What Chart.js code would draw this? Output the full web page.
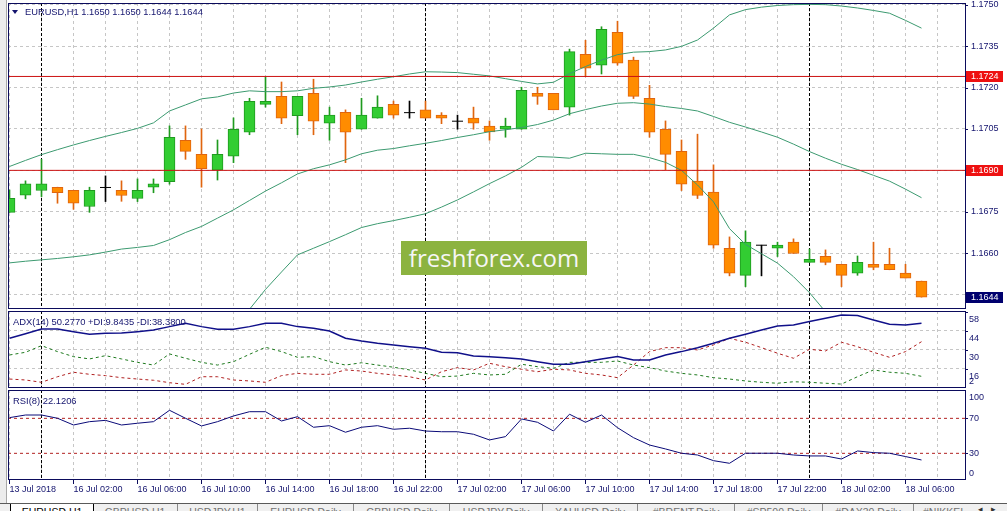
<!DOCTYPE html>
<html lang="en">
<head>
<meta charset="UTF-8">
<title>EURUSD,H1</title>
<script src="https://cdn.jsdelivr.net/npm/chart.js"></script>
<style>
    html, body { margin: 0; padding: 0; }
    body {
        width: 1007px;
        height: 511px;
        position: relative;
        overflow: hidden;
        background: #fff;
        font-family: 'Liberation Sans', Arial, sans-serif;
    }
    canvas { position: absolute; left: 0; }
    #leftStrip {
        position: absolute; left: 0; top: 0; width: 6px; height: 503px;
        background: #ececec; border-right: 1px solid #a8a8a8;
    }
    .label {
        position: absolute;
        color: #14146e;
        font-size: 9.4px;
        line-height: 11px;
        white-space: nowrap;
        z-index: 5;
    }
    #tri {
        position: absolute; left: 12px; top: 10px; width: 0; height: 0;
        border-left: 3px solid transparent; border-right: 3px solid transparent;
        border-top: 4px solid #14146e; z-index: 5;
    }
    #brand {
        position: absolute; left: 401px; top: 241px; width: 186px; height: 34px;
        background: #8cb340; color: #f6f6f6;
        font-family: 'Open Sans', sans-serif; font-size: 24px; line-height: 34px;
        text-align: center; z-index: 5;
    }
    #tabs {
        position: absolute; left: 0; top: 503px; width: 1007px; height: 8px;
        background: #f0f0f0; border-top: 1px solid #5a5a5a; z-index: 6; overflow: hidden;
    }
    .tab {
        position: absolute; top: 0; height: 12px; box-sizing: border-box;
        font-size: 10.5px; line-height: 10.5px; padding-top: 3px;
        color: #707070; text-align: center; border-right: 1px solid #8a8a8a;
        white-space: nowrap; overflow: hidden;
    }
    .tab.active {
        top: -1px; background: #fff; color: #000;
        border-left: 1px solid #000; border-right: 1px solid #000;
        padding-top: 4px;
    }
    #arrows {
        position: absolute; left: 978px; top: 1px; font-size: 9px; line-height: 9px; color: #333;
    }
</style>
</head>
<body>
<div id="leftStrip"></div>
<canvas id="mainChart" width="1007" height="310" style="top:0"></canvas>
<canvas id="adxChart" width="1007" height="79" style="top:310px"></canvas>
<canvas id="rsiChart" width="1007" height="122" style="top:389px"></canvas>

<div id="tri"></div>
<div class="label" id="header" style="left:25px; top:6.5px; font-size:9.3px"></div>
<div class="label" style="left:13px; top:315.5px">ADX(14) 50.2770 +DI:9.8435 -DI:38.3800</div>
<div class="label" style="left:13px; top:394.8px">RSI(8) 22.1206</div>
<div id="brand">freshforex.com</div>

<div id="tabs">
    <div class="tab" style="left:93px; width:85px">GBPUSD,H1</div>
    <div class="tab" style="left:178px; width:80px">USDJPY,H1</div>
    <div class="tab" style="left:258px; width:96px">EURUSD,Daily</div>
    <div class="tab" style="left:354px; width:96px">GBPUSD,Daily</div>
    <div class="tab" style="left:450px; width:93px">USDJPY,Daily</div>
    <div class="tab" style="left:543px; width:95px">XAUUSD,Daily</div>
    <div class="tab" style="left:638px; width:97px">#BRENT,Daily</div>
    <div class="tab" style="left:735px; width:88px">#SP500,Daily</div>
    <div class="tab" style="left:823px; width:91px">#DAX30,Daily</div>
    <div class="tab" style="left:914px; width:60px; text-align:left; padding-left:9px; border-right:none">#NIKKEI</div>
    <div class="tab active" style="left:10px; width:84px">EURUSD,H1</div>
    <div id="arrows">&#9666;&nbsp;&nbsp;&nbsp;&#9656;</div>
</div>

<script>
    // EURUSD H1 candles
    const opens = [1.16748, 1.16810, 1.16827, 1.16839, 1.16828, 1.16769, 1.16838, 1.16828, 1.16798, 1.16839,
        1.16859, 1.17009, 1.16958, 1.16901, 1.16951, 1.17038, 1.17139, 1.17168, 1.17098, 1.17179,
        1.17071, 1.17110, 1.17049, 1.17089, 1.17139, 1.17109, 1.17119, 1.17100, 1.17078, 1.17089,
        1.17060, 1.17049, 1.17049, 1.17179, 1.17179, 1.17129, 1.17320, 1.17281, 1.17400, 1.17299,
        1.17161, 1.17049, 1.16969, 1.16861, 1.16821, 1.16618, 1.16520, 1.16629, 1.16618, 1.16640,
        1.16567, 1.16589, 1.16560, 1.16528, 1.16560, 1.16560, 1.16528, 1.16499];
    const highs = [1.16829, 1.16862, 1.16940, 1.16839, 1.16828, 1.16839, 1.16880, 1.16862, 1.16869, 1.16869,
        1.17061, 1.17061, 1.17050, 1.17010, 1.17090, 1.17161, 1.17239, 1.17220, 1.17168, 1.17230,
        1.17129, 1.17119, 1.17161, 1.17170, 1.17151, 1.17151, 1.17151, 1.17109, 1.17100, 1.17129,
        1.17079, 1.17089, 1.17201, 1.17201, 1.17179, 1.17339, 1.17371, 1.17420, 1.17440, 1.17310,
        1.17208, 1.17079, 1.17010, 1.17031, 1.16920, 1.16659, 1.16681, 1.16629, 1.16640, 1.16652,
        1.16615, 1.16612, 1.16560, 1.16590, 1.16640, 1.16618, 1.16560, 1.16499];
    const lows = [1.16748, 1.16797, 1.16805, 1.16781, 1.16759, 1.16748, 1.16787, 1.16788, 1.16787, 1.16819,
        1.16850, 1.16940, 1.16839, 1.16865, 1.16928, 1.17029, 1.17129, 1.17069, 1.17029, 1.17029,
        1.17009, 1.16928, 1.17049, 1.17089, 1.17089, 1.17089, 1.17089, 1.17069, 1.17049, 1.17049,
        1.17009, 1.17020, 1.17049, 1.17139, 1.17119, 1.17100, 1.17239, 1.17249, 1.17281, 1.17160,
        1.17020, 1.16902, 1.16827, 1.16798, 1.16618, 1.16518, 1.16479, 1.16518, 1.16588, 1.16599,
        1.16567, 1.16558, 1.16479, 1.16520, 1.16540, 1.16540, 1.16510, 1.16441];
    const closes = [1.16799, 1.16851, 1.16851, 1.16819, 1.16781, 1.16828, 1.16838, 1.16809, 1.16828, 1.16851,
        1.17020, 1.16969, 1.16906, 1.16958, 1.17049, 1.17150, 1.17150, 1.17089, 1.17168, 1.17078,
        1.17100, 1.17038, 1.17100, 1.17129, 1.17100, 1.17109, 1.17089, 1.17089, 1.17078, 1.17071,
        1.17039, 1.17060, 1.17190, 1.17168, 1.17119, 1.17330, 1.17270, 1.17411, 1.17288, 1.17168,
        1.17038, 1.16958, 1.16850, 1.16809, 1.16629, 1.16528, 1.16640, 1.16629, 1.16629, 1.16599,
        1.16578, 1.16567, 1.16520, 1.16567, 1.16549, 1.16540, 1.16510, 1.16441];

    // Bollinger bands
    const bbUpper = [1.16914, 1.16936, 1.16957, 1.16975, 1.16992, 1.17008, 1.17023, 1.17037, 1.17052, 1.17072,
        1.17115, 1.17137, 1.17159, 1.17166, 1.17180, 1.17188, 1.17185, 1.17185, 1.17188, 1.17197,
        1.17202, 1.17209, 1.17220, 1.17230, 1.17239, 1.17249, 1.17257, 1.17256, 1.17254, 1.17248,
        1.17242, 1.17232, 1.17222, 1.17213, 1.17219, 1.17250, 1.17276, 1.17299, 1.17319, 1.17328,
        1.17330, 1.17336, 1.17349, 1.17372, 1.17415, 1.17463, 1.17482, 1.17491, 1.17497, 1.17500,
        1.17501, 1.17500, 1.17495, 1.17488, 1.17479, 1.17469, 1.17443, 1.17415];
    const bbMiddle = [1.16565, 1.16571, 1.16576, 1.16581, 1.16587, 1.16594, 1.16604, 1.16615, 1.16621, 1.16628,
        1.16649, 1.16675, 1.16697, 1.16727, 1.16757, 1.16791, 1.16825, 1.16855, 1.16887, 1.16906,
        1.16920, 1.16938, 1.16960, 1.16973, 1.16979, 1.16989, 1.16998, 1.17008, 1.17019, 1.17029,
        1.17040, 1.17047, 1.17055, 1.17066, 1.17082, 1.17105, 1.17120, 1.17133, 1.17143, 1.17145,
        1.17140, 1.17131, 1.17124, 1.17115, 1.17095, 1.17074, 1.17057, 1.17039, 1.17020, 1.16995,
        1.16968, 1.16944, 1.16922, 1.16903, 1.16882, 1.16861, 1.16832, 1.16801];
    const bbLower = [1.16217, 1.16206, 1.16195, 1.16187, 1.16181, 1.16180, 1.16184, 1.16193, 1.16191, 1.16185,
        1.16183, 1.16213, 1.16235, 1.16288, 1.16333, 1.16397, 1.16469, 1.16532, 1.16594, 1.16618,
        1.16642, 1.16667, 1.16693, 1.16707, 1.16718, 1.16730, 1.16743, 1.16767, 1.16793, 1.16822,
        1.16852, 1.16880, 1.16911, 1.16950, 1.16948, 1.16944, 1.16962, 1.16960, 1.16958, 1.16958,
        1.16946, 1.16929, 1.16900, 1.16847, 1.16786, 1.16689, 1.16632, 1.16598, 1.16564, 1.16515,
        1.16457, 1.16388, 1.16349, 1.16317, 1.16284, 1.16252, 1.16221, 1.16188];

    // horizontal levels
    const levels = [1.1724, 1.1690];

    // ADX(14)
    const adx = [38.6, 42.0, 45.5, 45.5, 43.5, 41.6, 42.3, 42.5, 43.5, 44.7,
        47.2, 49.7, 47.2, 45.3, 45.3, 47.2, 49.7, 49.7, 47.2, 46.0,
        44.0, 38.6, 36.6, 34.9, 33.7, 32.4, 31.3, 28.3, 28.0, 25.6,
        25.1, 24.3, 23.4, 21.4, 19.5, 19.5, 21.4, 23.4, 25.1, 22.6,
        22.6, 26.3, 28.8, 31.7, 34.9, 38.6, 41.6, 44.7, 47.7, 48.4,
        50.9, 53.4, 55.8, 55.3, 52.1, 48.9, 48.4, 49.7];
    const plusDI = [26.3, 28.3, 33.2, 28.8, 25.1, 23.4, 25.8, 23.4, 20.9, 18.9,
        27.1, 23.9, 20.9, 18.9, 21.4, 26.8, 32.0, 28.8, 24.6, 25.1,
        21.4, 18.9, 20.6, 18.9, 17.3, 15.3, 12.8, 10.3, 10.8, 12.8,
        11.6, 12.1, 19.5, 17.7, 16.5, 20.9, 20.9, 20.9, 21.9, 18.9,
        17.0, 14.5, 12.8, 11.6, 9.6, 8.6, 7.2, 6.2, 5.5, 6.6,
        6.2, 5.5, 4.9, 10.3, 15.3, 13.6, 12.8, 10.6];
    const minusDI = [8.6, 7.9, 6.2, 10.3, 13.6, 12.1, 11.1, 9.6, 8.6, 7.7,
        5.9, 4.7, 10.3, 10.3, 7.9, 7.2, 6.2, 11.1, 12.8, 12.1,
        12.1, 15.3, 14.5, 12.8, 11.6, 10.3, 7.9, 14.0, 17.0, 15.3,
        20.2, 17.7, 15.8, 14.0, 15.8, 15.3, 12.8, 11.6, 9.6, 18.9,
        28.8, 31.7, 31.7, 30.0, 33.7, 38.6, 35.7, 31.7, 27.6, 23.9,
        30.5, 29.3, 35.7, 32.4, 28.3, 24.6, 28.8, 36.1];

    // RSI(8)
    const rsi = [70.8, 73.8, 73.8, 70.1, 62.4, 66.2, 67.7, 62.4, 64.4, 66.2,
        79.2, 70.1, 61.3, 66.2, 72.7, 77.6, 77.6, 67.0, 71.9, 59.8,
        61.6, 54.1, 59.8, 61.6, 57.5, 58.7, 55.5, 54.7, 54.7, 51.8,
        45.3, 49.1, 69.3, 65.5, 55.5, 74.7, 65.5, 73.8, 59.3, 47.9,
        39.5, 35.0, 30.1, 28.1, 21.6, 18.6, 30.1, 30.1, 30.1, 28.1,
        27.0, 27.0, 23.5, 32.7, 30.8, 30.1, 26.3, 22.4];
    const rsiLevels = [30, 70];

    // axis ticks
    const timeLabels = ['13 Jul 2018', '16 Jul 02:00', '16 Jul 06:00', '16 Jul 10:00', '16 Jul 14:00',
        '16 Jul 18:00', '16 Jul 22:00', '17 Jul 02:00', '17 Jul 06:00', '17 Jul 10:00',
        '17 Jul 14:00', '17 Jul 18:00', '17 Jul 22:00', '18 Jul 02:00', '18 Jul 06:00'];
    const priceTicks = [1.1645, 1.1660, 1.1675, 1.1690, 1.1705, 1.1720, 1.1735, 1.1750];
    const hiddenPriceTicks = [1.1645, 1.1690];   // covered by the price tags
    const adxTicks = [16, 30, 44, 58];
    const separators = [2, 26, 50];               // day breaks (bar index)

    const TEXT = '#14146e';
    const FRAME = '#0b0b5c';
    const GRID = '#c6c6c6';
    const UP_FILL = '#32cd32', UP_EDGE = '#1f9a1f';
    const DN_FILL = '#ff8c00', DN_EDGE = '#e0650f';
    const BAND = '#3c9a70';

    const X_MIN = -0.09375, X_MAX = 59.71875;
    const bars = opens.map((_, i) => i);
    const gridBars = [];
    for (let k = 0; k <= 58; k += 2) gridBars.push(k);

    Chart.defaults.font.family = "'Liberation Sans', Arial, sans-serif";
    Chart.defaults.font.size = 9;
    Chart.defaults.color = TEXT;

    document.getElementById('header').textContent = 'EURUSD,H1 ' +
        [opens[57], highs[57], lows[57], closes[57]].map(v => v.toFixed(4)).join(' ');

    // frames, separators, tick marks, tags
    const panelPlugin = {
        id: 'panel',
        beforeDatasetsDraw(chart) {
            const { ctx, chartArea: a, scales: { x } } = chart;
            ctx.save();
            ctx.strokeStyle = '#000';
            ctx.lineWidth = 1;
            ctx.setLineDash([3, 2]);
            separators.forEach(k => {
                const px = Math.floor(x.getPixelForValue(k)) + 0.5;
                ctx.beginPath();
                ctx.moveTo(px, a.top);
                ctx.lineTo(px, a.bottom);
                ctx.stroke();
            });
            ctx.restore();
        },
        afterDraw(chart, args, opts) {
            const { ctx, chartArea: a, scales: { x, y } } = chart;
            ctx.save();
            ctx.strokeStyle = FRAME;
            ctx.lineWidth = 1;
            ctx.strokeRect(a.left + 0.5, a.top + 0.5, a.right - a.left, a.bottom - a.top - 1);

            y.ticks.forEach(t => {
                const py = Math.round(y.getPixelForValue(t.value)) + 0.5;
                ctx.beginPath();
                ctx.moveTo(a.right, py);
                ctx.lineTo(a.right + 3, py);
                ctx.stroke();
            });
            if (opts.timeTicks) {
                x.ticks.forEach(t => {
                    if (t.value % 4 !== 0) return;
                    const px = Math.floor(x.getPixelForValue(t.value)) + 0.5;
                    ctx.beginPath();
                    ctx.moveTo(px, a.bottom);
                    ctx.lineTo(px, a.bottom + 4);
                    ctx.stroke();
                });
            }

            ctx.font = "9px 'Liberation Sans', Arial, sans-serif";
            ctx.textBaseline = 'middle';
            ctx.textAlign = 'left';
            (opts.extraLabels || []).forEach(l => {
                ctx.fillStyle = TEXT;
                ctx.fillText(l.text, a.right + 4, y.getPixelForValue(l.value) + l.shift);
            });
            (opts.tags || []).forEach(tag => {
                const py = Math.round(y.getPixelForValue(tag.value));
                ctx.fillStyle = tag.color;
                ctx.fillRect(a.right + 1, py - 5, 37, 11);
                ctx.fillStyle = '#fff';
                ctx.fillText(tag.value.toFixed(4), a.right + 6, py + 0.5);
            });
            ctx.restore();
        }
    };

    function fitRight(s) { s.width = 42; s.paddingTop = 0; s.paddingBottom = 0; }
    function fitNone(s) { s.height = 0; s.paddingLeft = 0; s.paddingRight = 0; }
    function fitTime(s) { s.height = 31; s.paddingLeft = 0; s.paddingRight = 0; }

    function xScale(withLabels) {
        return {
            type: 'linear',
            min: X_MIN,
            max: X_MAX,
            offset: false,
            afterBuildTicks: s => { s.ticks = gridBars.map(v => ({ value: v })); },
            afterFit: withLabels ? fitTime : fitNone,
            grid: { color: GRID, drawTicks: false, offset: false },
            border: { display: false, dash: [3, 3] },
            ticks: {
                display: withLabels,
                autoSkip: false,
                maxRotation: 0,
                minRotation: 0,
                align: 'start',
                padding: 4,
                callback: v => (v % 4 === 0 && timeLabels[v / 4]) || ''
            }
        };
    }

    function series(values) {
        return values.map((v, i) => ({ x: i, y: v }));
    }

    function levelLine(v) {
        return [{ x: X_MIN, y: v }, { x: X_MAX, y: v }];
    }

    const baseOptions = {
        responsive: false,
        animation: false,
        devicePixelRatio: 1,
        events: [],
        plugins: { legend: { display: false }, tooltip: { enabled: false } }
    };

    // ---- price panel ----
    const isUp = bars.map(i => closes[i] > opens[i]);
    const isDoji = bars.map(i => closes[i] === opens[i]);
    const bodyBars = bars.filter(i => !isDoji[i]);

    new Chart(document.getElementById('mainChart'), {
        type: 'bar',
        data: {
            datasets: [
                {
                    label: 'wick',
                    data: bars.map(i => ({ x: i, y: [lows[i], highs[i]] })),
                    backgroundColor: bars.map(i => isDoji[i] ? '#000' : (isUp[i] ? UP_EDGE : DN_EDGE)),
                    barThickness: 1,
                    grouped: false,
                    clip: 0,
                    order: 5
                },
                {
                    label: 'body',
                    data: bodyBars.map(i => ({ x: i, y: [opens[i], closes[i]] })),
                    backgroundColor: bodyBars.map(i => isUp[i] ? UP_FILL : DN_FILL),
                    borderColor: bodyBars.map(i => isUp[i] ? UP_EDGE : DN_EDGE),
                    borderWidth: 1,
                    borderSkipped: false,
                    barThickness: 11,
                    grouped: false,
                    clip: 0,
                    order: 4
                },
                {
                    type: 'line',
                    label: 'doji',
                    data: bars.filter(i => isDoji[i]).map(i => ({ x: i, y: opens[i] })),
                    showLine: false,
                    pointStyle: 'line',
                    pointRadius: 5.5,
                    pointBorderColor: '#000',
                    pointBorderWidth: 1,
                    clip: 0,
                    order: 3
                },
                ...[bbUpper, bbMiddle, bbLower].map(band => ({
                    type: 'line',
                    data: series(band),
                    borderColor: BAND,
                    borderWidth: 1,
                    pointRadius: 0,
                    tension: 0,
                    clip: 0,
                    order: 2
                })),
                ...levels.map(v => ({
                    type: 'line',
                    data: levelLine(v),
                    borderColor: '#cc1111',
                    borderWidth: 1,
                    pointRadius: 0,
                    clip: 0,
                    order: 1
                }))
            ]
        },
        options: {
            ...baseOptions,
            layout: { autoPadding: false, padding: { left: 8, top: 3, right: 0, bottom: 1 } },
            scales: {
                x: xScale(false),
                y: {
                    type: 'linear',
                    position: 'right',
                    min: 1.16398,
                    max: 1.17506,
                    afterBuildTicks: s => { s.ticks = priceTicks.map(v => ({ value: v })); },
                    afterFit: fitRight,
                    grid: { color: GRID, drawTicks: false },
                    border: { display: false, dash: [3, 3] },
                    ticks: {
                        padding: 6,
                        callback: v => hiddenPriceTicks.some(h => Math.abs(h - v) < 1e-7) ? '' : v.toFixed(4)
                    }
                }
            },
            plugins: {
                ...baseOptions.plugins,
                panel: {
                    tags: [
                        { value: levels[0], color: '#ee1111' },
                        { value: levels[1], color: '#ee1111' },
                        { value: closes[closes.length - 1], color: '#00006e' }
                    ]
                }
            }
        },
        plugins: [panelPlugin]
    });

    // ---- ADX panel ----
    new Chart(document.getElementById('adxChart'), {
        type: 'line',
        data: {
            datasets: [
                { data: series(adx), borderColor: '#10108a', borderWidth: 1.5, pointRadius: 0, clip: 0 },
                { data: series(plusDI), borderColor: '#1e7a1e', borderWidth: 1, borderDash: [3, 3], pointRadius: 0, clip: 0 },
                { data: series(minusDI), borderColor: '#b02020', borderWidth: 1, borderDash: [3, 3], pointRadius: 0, clip: 0 }
            ]
        },
        options: {
            ...baseOptions,
            layout: { autoPadding: false, padding: { left: 8, top: 1, right: 0, bottom: 1 } },
            scales: {
                x: xScale(false),
                y: {
                    type: 'linear',
                    position: 'right',
                    min: 2,
                    max: 58.7,
                    afterBuildTicks: s => { s.ticks = adxTicks.map(v => ({ value: v })); },
                    afterFit: fitRight,
                    grid: { color: GRID, drawTicks: false },
                    border: { display: false, dash: [3, 3] },
                    ticks: { padding: 4, labelOffset: 8 }
                }
            },
            plugins: {
                ...baseOptions.plugins,
                panel: { extraLabels: [{ text: '2', value: 2, shift: -6 }] }
            }
        },
        plugins: [panelPlugin]
    });

    // ---- RSI panel ----
    new Chart(document.getElementById('rsiChart'), {
        type: 'line',
        data: {
            datasets: [
                { data: series(rsi), borderColor: '#0a0a78', borderWidth: 1, pointRadius: 0, clip: 0 },
                ...rsiLevels.map(v => ({
                    data: levelLine(v),
                    borderColor: '#b22222',
                    borderWidth: 1,
                    borderDash: [3, 3],
                    pointRadius: 0,
                    clip: 0
                }))
            ]
        },
        options: {
            ...baseOptions,
            layout: { autoPadding: false, padding: { left: 8, top: 1, right: 0, bottom: 0 } },
            scales: {
                x: xScale(true),
                y: {
                    type: 'linear',
                    position: 'right',
                    min: -0.5,
                    max: 102.4,
                    afterBuildTicks: s => { s.ticks = rsiLevels.map(v => ({ value: v })); },
                    afterFit: fitRight,
                    grid: { display: false, drawTicks: false },
                    border: { display: false },
                    ticks: { padding: 4 }
                }
            },
            plugins: {
                ...baseOptions.plugins,
                panel: {
                    timeTicks: true,
                    extraLabels: [
                        { text: '100', value: 100, shift: 5 },
                        { text: '0', value: 0, shift: -6 }
                    ]
                }
            }
        },
        plugins: [panelPlugin]
    });
</script>
</body>
</html>
